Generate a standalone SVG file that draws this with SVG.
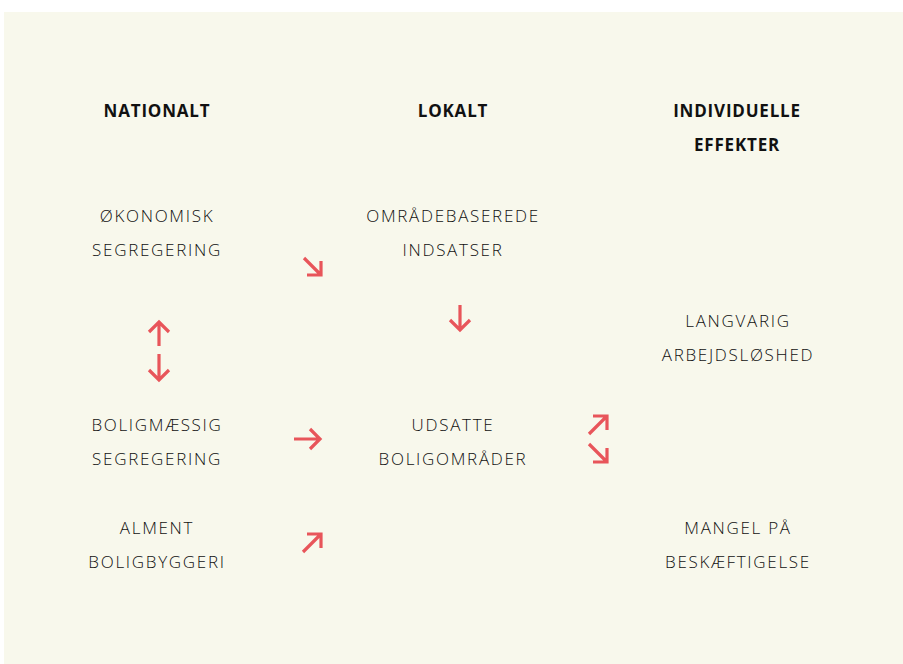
<svg xmlns="http://www.w3.org/2000/svg" width="903" height="664" viewBox="0 0 903 664">
<style>
.h{font-family:"Open Sans","Liberation Sans",sans-serif;font-weight:700;font-size:17px;fill:#111;text-anchor:middle;letter-spacing:0.8px}
.t{font-family:"Open Sans","Liberation Sans",sans-serif;font-weight:300;font-size:17px;fill:#111;text-anchor:middle;letter-spacing:1.7px}
.a{fill:none;stroke:#e8555a;stroke-width:3.2;stroke-linecap:butt;stroke-linejoin:miter}
</style>
<rect x="0" y="0" width="903" height="664" fill="#ffffff"/>
<rect x="4" y="12" width="899" height="652" fill="#f8f8ec"/>
<g id="nationalt"><text class="h" x="157" y="117">NATIONALT</text></g>
<g id="lokalt"><text class="h" x="453" y="117">LOKALT</text></g>
<g id="individuelle"><text class="h" x="737" y="117">INDIVIDUELLE</text><text class="h" x="737" y="151">EFFEKTER</text></g>
<g id="okonomisk"><text class="t" x="157" y="222">ØKONOMISK</text><text class="t" x="157" y="256">SEGREGERING</text></g>
<g id="omradebaserede"><text class="t" x="453" y="222">OMRÅDEBASEREDE</text><text class="t" x="453" y="256">INDSATSER</text></g>
<g id="langvarig"><text class="t" x="738" y="327">LANGVARIG</text><text class="t" x="738" y="361">ARBEJDSLØSHED</text></g>
<g id="boligmaessig"><text class="t" x="157" y="431">BOLIGMÆSSIG</text><text class="t" x="157" y="465">SEGREGERING</text></g>
<g id="udsatte"><text class="t" x="453" y="431">UDSATTE</text><text class="t" x="453" y="465">BOLIGOMRÅDER</text></g>
<g id="alment"><text class="t" x="157" y="534">ALMENT</text><text class="t" x="157" y="568">BOLIGBYGGERI</text></g>
<g id="mangel"><text class="t" x="738" y="534">MANGEL PÅ</text><text class="t" x="738" y="568">BESKÆFTIGELSE</text></g>
<g id="connectors">
<path class="a" d="M304,258 L321,275 M321,261 L321,275 L307,275"/>
<path class="a" d="M159,346 L159,322 M149,332 L159,322 L169,332"/>
<path class="a" d="M159,354 L159,380 M149,370 L159,380 L169,370"/>
<path class="a" d="M460,305 L460,330 M450,320 L460,330 L470,320"/>
<path class="a" d="M294,439 L320,439 M310,429 L320,439 L310,449"/>
<path class="a" d="M589,434 L607,416 M593,416 L607,416 L607,430"/>
<path class="a" d="M589,444 L607,462 M607,448 L607,462 L593,462"/>
<path class="a" d="M303,552 L321,534 M307,534 L321,534 L321,548"/>
</g>
</svg>
